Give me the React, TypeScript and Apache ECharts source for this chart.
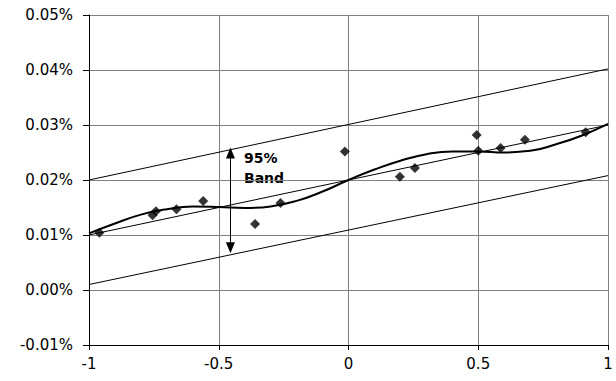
import React, { useEffect, useRef } from "react";
import * as echarts from "echarts";

// observations: x and y (in %)
const obsX = [-0.96, -0.755, -0.742, -0.663, -0.56, -0.36, -0.262, -0.014, 0.198, 0.256, 0.494, 0.5, 0.586, 0.68, 0.914];
const obsY = [0.0104, 0.0136, 0.0143, 0.0147, 0.0162, 0.012, 0.0158, 0.0252, 0.0206, 0.0222, 0.0282, 0.0253, 0.0258, 0.0273, 0.0287];

// fitted curve (y in %)
const curveX = [-1, -0.9, -0.8, -0.7, -0.6, -0.5, -0.4, -0.3, -0.2, -0.1, 0, 0.1, 0.2, 0.3, 0.4, 0.5, 0.6, 0.7, 0.8, 0.9, 1];
const curveY = [0.0103, 0.0121, 0.0137, 0.0147, 0.0152, 0.0151, 0.0149, 0.0152, 0.0162, 0.0179, 0.02, 0.0219, 0.0235, 0.0247, 0.0252, 0.0252, 0.025, 0.0253, 0.0265, 0.0281, 0.0302];

// straight lines: regression and 95% band
const lineX = [-1, 1];
const centerY = [0.01, 0.03];
const upperY = [0.02, 0.0402];
const lowerY = [0.001, 0.0208];

// band arrow
const arrowX = -0.455;
const arrowTop = 0.0249;
const arrowBottom = 0.0077;
const bandLabel = "95%\nBand";

const xTicks = { min: -1, max: 1, interval: 0.5 };
const yTicks = { min: -0.01, max: 0.05, interval: 0.01 };

const zip = (xs: number[], ys: number[]) => xs.map((x, i) => [x, ys[i]]);

export default function App() {
  const ref = useRef<HTMLDivElement>(null);
  useEffect(() => {
    const chart = echarts.init(ref.current!, null, { renderer: "svg" });
    const font = "DejaVu Sans, sans-serif";
    const straight = (data: number[][]) => ({
      type: "line",
      data,
      symbol: "none",
      lineStyle: { color: "#000", width: 1 },
      z: 3,
    });
    chart.setOption({
      animation: false,
      backgroundColor: "#fff",
      grid: { left: 89, right: 8, top: 15, bottom: 36 },
      xAxis: {
        type: "value",
        ...xTicks,
        axisLine: { onZero: false, lineStyle: { color: "#000", width: 1 } },
        axisTick: { show: true, length: 5, lineStyle: { color: "#000" } },
        axisLabel: {
          color: "#000",
          fontFamily: font,
          fontSize: 15,
          margin: 11,
          formatter: (v: number) => String(Math.round(v * 10) / 10),
        },
        splitLine: { show: true, lineStyle: { color: "#808080", width: 1 } },
      },
      yAxis: {
        type: "value",
        ...yTicks,
        axisLine: { show: true, onZero: false, lineStyle: { color: "#000", width: 1 } },
        axisTick: { show: true, length: 6, lineStyle: { color: "#000" } },
        axisLabel: {
          color: "#000",
          fontFamily: font,
          fontSize: 15,
          margin: 16,
          formatter: (v: number) => v.toFixed(2) + "%",
        },
        splitLine: { show: true, lineStyle: { color: "#808080", width: 1 } },
      },
      series: [
        straight(zip(lineX, centerY)),
        straight(zip(lineX, upperY)),
        straight(zip(lineX, lowerY)),
        {
          type: "line",
          data: zip(curveX, curveY),
          symbol: "none",
          smooth: 0.5,
          lineStyle: { color: "#000", width: 2 },
          z: 4,
          markLine: {
            silent: true,
            symbol: ["triangle", "triangle"],
            symbolSize: [9, 11],
            lineStyle: { color: "#000", width: 1, type: "solid" },
            label: { show: false },
            data: [[{ coord: [arrowX, arrowTop] }, { coord: [arrowX, arrowBottom] }]],
          },
        },
        {
          type: "scatter",
          data: zip(obsX, obsY),
          symbol: "diamond",
          symbolSize: 10,
          itemStyle: { color: "#000" },
          z: 5,
        },
      ],
      graphic: [
        {
          type: "text",
          left: 244,
          top: 148,
          style: {
            text: bandLabel,
            fontFamily: font,
            fontWeight: "bold",
            fontSize: 14,
            lineHeight: 20,
            fill: "#000",
          },
        },
      ],
    });
    return () => chart.dispose();
  }, []);
  return (
    <div
      ref={ref}
      style={{ position: "fixed", left: 0, top: 0, width: 616, height: 381 }}
    />
  );
}
